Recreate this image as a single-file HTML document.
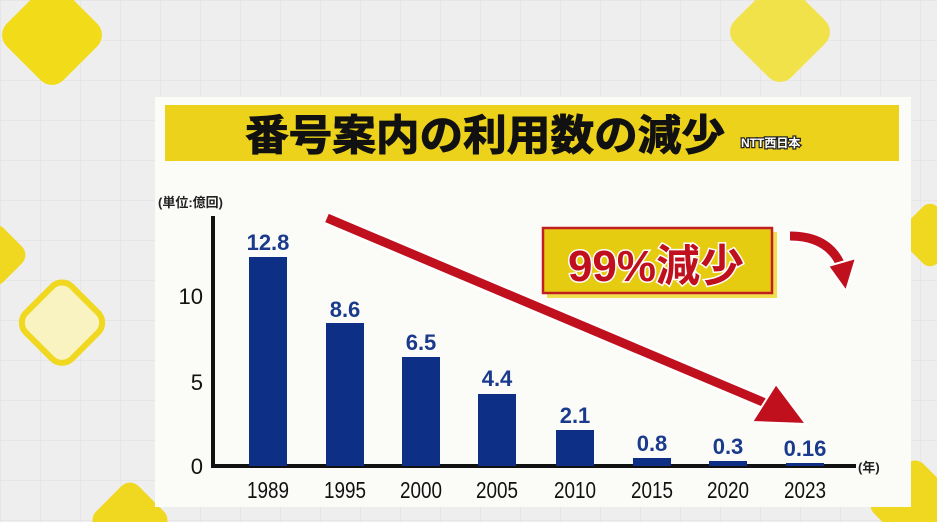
<!DOCTYPE html>
<html><head><meta charset="utf-8"><style>
html,body{margin:0;padding:0;width:937px;height:522px;overflow:hidden;}
body{background:#ececec;}
svg{display:block;}
.t{font-family:"Liberation Sans","Noto Sans CJK JP",sans-serif;font-weight:bold;}
</style></head><body>
<svg width="937" height="522" viewBox="0 0 937 522" xmlns="http://www.w3.org/2000/svg" style="overflow:hidden">
<defs>
<pattern id="g" width="40" height="40" patternUnits="userSpaceOnUse"><path d="M40 0H0V40" fill="none" stroke="#dedede" stroke-width="1"/></pattern>
<clipPath id="c"><rect width="937" height="522"/></clipPath>
</defs>
<g clip-path="url(#c)">
<rect width="937" height="522" fill="#eeeeee"/>
<rect width="937" height="522" fill="url(#g)"/>
<rect x="12" y="-5" width="80" height="80" rx="16" fill="#f2dc1a" transform="rotate(45 52 35)"/>
<rect x="740" y="-8" width="80" height="80" rx="16" fill="#f2e24a" transform="rotate(45 780 32)"/>
<rect x="30" y="290" width="65" height="65" rx="14" fill="#f8f3c0" stroke="#f0d820" stroke-width="6" transform="rotate(45 62 322)"/>
<rect x="-30" y="230" width="50" height="50" rx="12" fill="#f0d820" transform="rotate(45 -5 255)"/>
<rect x="100" y="490" width="60" height="60" rx="12" fill="#f0d820" transform="rotate(45 130 520)"/>
<rect x="880" y="470" width="70" height="70" rx="12" fill="#f0d820" transform="rotate(45 915 505)"/>
<rect x="905" y="210" width="50" height="50" rx="10" fill="#f0d820" transform="rotate(45 930 235)"/>
<rect x="155" y="97" width="756" height="410" fill="#fbfbf8"/>
<rect x="165" y="105" width="734" height="56" fill="#ecd21a"/>
<text class="t" x="245" y="150" font-size="42" textLength="480" lengthAdjust="spacingAndGlyphs" fill="#111" stroke="#111" stroke-width="1">番号案内の利用数の減少</text>
<text class="t" x="741" y="147" font-size="12" fill="#fff" stroke="#222" stroke-width="2.5" paint-order="stroke">NTT西日本</text>
<text class="t" x="158" y="207" font-size="13" fill="#222">(単位:億回)</text>
<line x1="213" y1="216" x2="213" y2="468" stroke="#111" stroke-width="4"/>
<line x1="211" y1="466" x2="856" y2="466" stroke="#111" stroke-width="4"/>
<g font-family="Liberation Sans, sans-serif" font-size="22" fill="#111" text-anchor="end">
<text x="203" y="304">10</text>
<text x="203" y="390">5</text>
<text x="203" y="474">0</text>
</g>
<g fill="#0d2f85">
<rect x="249" y="257" width="38" height="209"/>
<rect x="326" y="323" width="38" height="143"/>
<rect x="402" y="357" width="38" height="109"/>
<rect x="478" y="394" width="38" height="72"/>
<rect x="556" y="430" width="38" height="36"/>
<rect x="633" y="458" width="38" height="8"/>
<rect x="709" y="461" width="38" height="5"/>
<rect x="786" y="463" width="38" height="3"/>
</g>
<g class="t" font-size="22" fill="#1a3a8c" text-anchor="middle">
<text x="268" y="250">12.8</text>
<text x="345" y="317">8.6</text>
<text x="421" y="350">6.5</text>
<text x="497" y="386">4.4</text>
<text x="575" y="423">2.1</text>
<text x="652" y="451">0.8</text>
<text x="728" y="454">0.3</text>
<text x="805" y="456">0.16</text>
</g>
<g font-family="Liberation Sans, sans-serif" font-size="23" fill="#111" text-anchor="middle" lengthAdjust="spacingAndGlyphs">
<text x="268" y="498" textLength="42" lengthAdjust="spacingAndGlyphs">1989</text>
<text x="345" y="498" textLength="42" lengthAdjust="spacingAndGlyphs">1995</text>
<text x="421" y="498" textLength="42" lengthAdjust="spacingAndGlyphs">2000</text>
<text x="497" y="498" textLength="42" lengthAdjust="spacingAndGlyphs">2005</text>
<text x="575" y="498" textLength="42" lengthAdjust="spacingAndGlyphs">2010</text>
<text x="652" y="498" textLength="42" lengthAdjust="spacingAndGlyphs">2015</text>
<text x="728" y="498" textLength="42" lengthAdjust="spacingAndGlyphs">2020</text>
<text x="805" y="498" textLength="42" lengthAdjust="spacingAndGlyphs">2023</text>
</g>
<text class="t" x="858" y="472" font-size="13" fill="#222">(年)</text>
<line x1="327" y1="218" x2="770" y2="405" stroke="#fff" stroke-width="14"/>
<line x1="327" y1="218" x2="770" y2="405" stroke="#c0101e" stroke-width="9"/>
<polygon points="806,424 752,422 776,384" fill="#c0101e" stroke="#fff" stroke-width="2"/>
<rect x="547" y="232" width="230" height="66" fill="#f0e050"/>
<rect x="543" y="228" width="229" height="65" fill="#e6cc10" stroke="#c02020" stroke-width="2.5"/>
<text class="t" x="656" y="281" font-size="44" text-anchor="middle" fill="#c0101e" stroke="#fff" stroke-width="3" paint-order="stroke">99%減少</text>
<path d="M790 236 Q830 236 842 268" fill="none" stroke="#fff" stroke-width="14"/>
<path d="M790 236 Q830 236 842 268" fill="none" stroke="#c0101e" stroke-width="9"/>
<polygon points="828,266 856,258 846,291" fill="#c0101e" stroke="#fff" stroke-width="2"/>
</g>
</svg>
</body></html>
